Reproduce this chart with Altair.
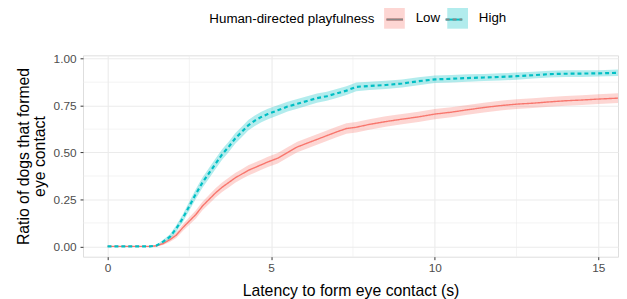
import altair as alt
import pandas as pd

# ---- data ----
times = [0, 1.3, 1.5, 1.7, 1.9, 2.1, 2.3, 2.5, 2.7, 2.9,
         3.1, 3.3, 3.5, 3.7, 3.9, 4.1, 4.3, 4.5, 4.7, 4.9,
         5.2, 5.5, 5.8, 6.1, 6.4, 6.7, 7.0, 7.3, 7.6,
         8.0, 8.5, 9.0, 9.5, 10.0, 10.5, 11.0, 11.5, 12.0, 12.5,
         13.0, 13.5, 14.0, 14.5, 15.0, 15.6]

low = [0, 0, 0.003, 0.015, 0.035, 0.06, 0.10, 0.135, 0.17, 0.215,
       0.25, 0.285, 0.315, 0.34, 0.365, 0.385, 0.405, 0.42, 0.435, 0.45,
       0.47, 0.50, 0.53, 0.55, 0.57, 0.59, 0.61, 0.628, 0.635,
       0.65, 0.665, 0.678, 0.69, 0.705, 0.715, 0.728, 0.74, 0.75, 0.758,
       0.763, 0.77, 0.776, 0.78, 0.785, 0.79]

high = [0, 0, 0.005, 0.025, 0.05, 0.095, 0.15, 0.215, 0.28, 0.34,
        0.39, 0.44, 0.49, 0.53, 0.575, 0.61, 0.645, 0.67, 0.69, 0.705,
        0.725, 0.745, 0.76, 0.775, 0.79, 0.80, 0.815, 0.83, 0.85,
        0.855, 0.86, 0.868, 0.88, 0.89, 0.893, 0.897, 0.90, 0.903, 0.907,
        0.912, 0.918, 0.92, 0.921, 0.922, 0.925]

low_hw = [0, 0, 0.003, 0.008, 0.012, 0.015, 0.018, 0.02, 0.022, 0.023,
          0.024, 0.025, 0.025, 0.026, 0.026, 0.026, 0.027, 0.027, 0.027, 0.027,
          0.028, 0.028, 0.028, 0.028, 0.028, 0.028, 0.028, 0.028, 0.028,
          0.028, 0.028, 0.027, 0.027, 0.027, 0.027, 0.026, 0.026, 0.026, 0.026,
          0.026, 0.026, 0.026, 0.026, 0.026, 0.026]

high_hw = [0, 0, 0.004, 0.01, 0.014, 0.018, 0.021, 0.024, 0.026, 0.027,
           0.028, 0.028, 0.028, 0.028, 0.028, 0.028, 0.028, 0.028, 0.028, 0.028,
           0.027, 0.026, 0.026, 0.025, 0.025, 0.024, 0.024, 0.023, 0.023,
           0.022, 0.022, 0.021, 0.021, 0.02, 0.02, 0.02, 0.019, 0.019, 0.019,
           0.018, 0.018, 0.018, 0.018, 0.017, 0.017]

groups = ["Low", "High"]
line_colors = ["#F8766D", "#00BFC4"]
x_major = [0, 5, 10, 15]
x_minor = [2.5, 7.5, 12.5]
y_major = [0, 0.25, 0.5, 0.75, 1.0]
y_minor = [0.125, 0.375, 0.625, 0.875]

rows = []
for g, vals, hw in [("Low", low, low_hw), ("High", high, high_hw)]:
    for t, v, h in zip(times, vals, hw):
        rows.append({"t": t, "p": v, "lo": max(v - h, 0), "hi": v + h,
                     "grp": g, "grp2": g})
df = pd.DataFrame(rows)

FONT = "Liberation Sans"
xscale = alt.Scale(domain=[-0.75, 15.6], nice=False, zero=False)
yscale = alt.Scale(domain=[-0.055, 1.018], nice=False, zero=False)

x_enc = alt.X("t:Q", scale=xscale, axis=alt.Axis(
    values=x_major, title="Latency to form eye contact (s)",
    titleFontSize=16, titleFontWeight="normal", titleColor="#000000", titleFont=FONT,
    titlePadding=9, labelFontSize=12, labelColor="#4D4D4D", labelFont=FONT,
    labelPadding=3, tickColor="#333333", tickSize=3, domain=False,
    gridColor="#EBEBEB", gridWidth=1.1))
y_enc = alt.Y("p:Q", scale=yscale, axis=alt.Axis(
    values=y_major, format=".2f", title=["Ratio of dogs that formed", "eye contact"],
    titleFontSize=16, titleFontWeight="normal", titleColor="#000000", titleFont=FONT,
    titleLineHeight=16, titlePadding=6, labelFontSize=12, labelColor="#4D4D4D",
    labelFont=FONT, labelPadding=4, tickColor="#333333", tickSize=3, domain=False,
    gridColor="#EBEBEB", gridWidth=1.1))

LEG_X = 128
LEG_Y = -48
TITLE_W = 167.3   # width of the legend title text at 13.5px
TITLE_PAD = 9

# legend with title, labels and the pale key boxes
fill_legend = alt.Legend(
    orient="none", legendX=LEG_X, legendY=LEG_Y, direction="horizontal",
    title="Human-directed playfulness", titleOrient="left",
    titleFontSize=13.5, titleFont=FONT, titleFontWeight="normal", titleColor="#000000",
    titleAnchor="middle", titleBaseline="middle", titlePadding=TITLE_PAD,
    labelFontSize=13.5, labelFont=FONT, labelColor="#000000", labelOffset=11,
    columnPadding=7, symbolSize=441, symbolType="square", symbolOpacity=0.3,
    symbolStrokeWidth=0, padding=0)

# legend with only the line keys, laid over the boxes
stroke_legend = alt.Legend(
    orient="none", legendX=LEG_X + TITLE_W + TITLE_PAD, legendY=LEG_Y,
    direction="horizontal", title=None, labelExpr="''", labelOffset=0,
    columnPadding=35, symbolSize=441, symbolType="M-0.8,0H0.8", symbolStrokeWidth=2,
    symbolOpacity=1, padding=0, zindex=1)

grid_x = alt.Chart(pd.DataFrame({"t": x_minor})).mark_rule(
    color="#EBEBEB", strokeWidth=0.6).encode(x=alt.X("t:Q", scale=xscale))
grid_y = alt.Chart(pd.DataFrame({"p": y_minor})).mark_rule(
    color="#EBEBEB", strokeWidth=0.6).encode(y=alt.Y("p:Q", scale=yscale))

band = alt.Chart(df).mark_area(fillOpacity=0.3, clip=True).encode(
    x=x_enc, y=alt.Y("lo:Q", scale=yscale), y2="hi:Q",
    fill=alt.Fill("grp:N", sort=groups,
                  scale=alt.Scale(range=line_colors),
                  legend=fill_legend))

line = alt.Chart(df).mark_line(clip=True).encode(
    x=alt.X("t:Q", scale=xscale), y=y_enc,
    stroke=alt.Stroke("grp2:N", sort=groups,
                      scale=alt.Scale(range=line_colors),
                      legend=stroke_legend),
    strokeDash=alt.StrokeDash("grp2:N", sort=groups,
                              scale=alt.Scale(range=[[1, 0], [4, 3]]),
                              legend=stroke_legend),
    strokeWidth=alt.StrokeWidth("grp2:N", sort=groups,
                                scale=alt.Scale(range=[1.4, 2.2]),
                                legend=None))

chart = alt.layer(grid_x, grid_y, band, line).properties(
    width=542, height=204,
    autosize=alt.AutoSizeParams(type="none"),
    padding={"left": 76, "top": 46, "right": 1, "bottom": 50},
).configure_view(stroke="#333333", strokeWidth=1.1).configure(background="white")

chart.save("out.html", embed_options={"renderer": "svg", "actions": False})
